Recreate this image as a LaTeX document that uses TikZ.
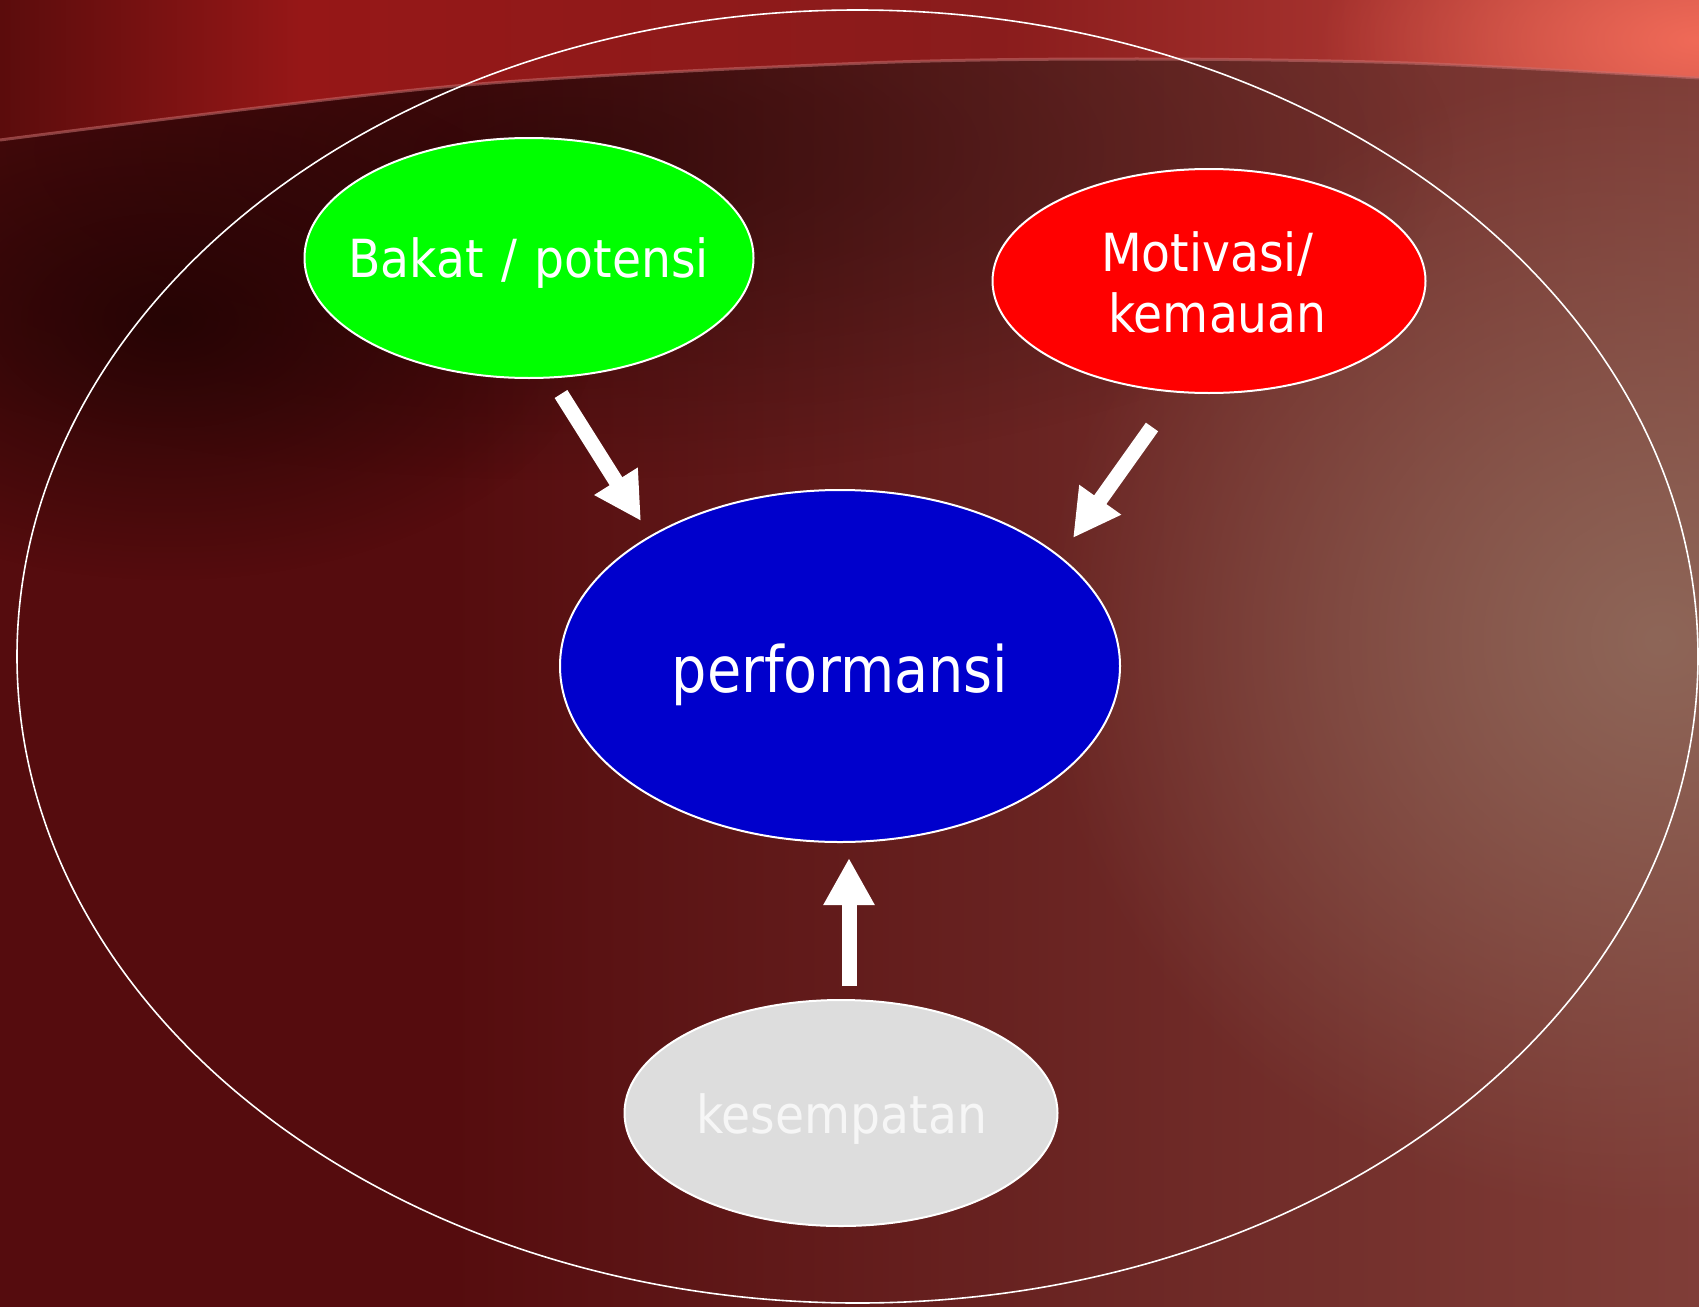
\documentclass[tikz,border=0pt]{standalone}
\usepackage{fontspec}
\setmainfont{DejaVu Sans}[FakeStretch=0.87]
\newfontfamily\lblfont{DejaVu Sans}[FakeStretch=0.9]
\usetikzlibrary{shapes.geometric,arrows.meta,fadings}
\tikzfading[name=softglow, inner color=transparent!0, outer color=transparent!100]
\definecolor{bgbase}{HTML}{550C0E}
\definecolor{bgright}{HTML}{803E38}
\definecolor{glowc}{HTML}{8E6658}
\definecolor{darkc}{HTML}{200303}
\definecolor{bandL}{HTML}{5A0C0C}
\definecolor{bandM}{HTML}{961717}
\definecolor{bandC}{HTML}{8A1C1C}
\definecolor{bandR}{HTML}{C04840}
\definecolor{bandglow}{HTML}{F06A58}
\definecolor{rimc}{HTML}{C87070}
\definecolor{cgreen}{HTML}{00FF00}
\definecolor{cred}{HTML}{FF0000}
\definecolor{cblue}{HTML}{0000CC}
\definecolor{cgrey}{HTML}{DDDDDD}
\definecolor{ctextgrey}{HTML}{F6F6F6}
\begin{document}
\begin{tikzpicture}[x=1pt,y=-1pt,
  oval/.style={ellipse, draw=white, line width=2pt, inner sep=0pt},
  lbl/.style={text=white, inner sep=0pt, anchor=base, font=\lblfont\fontsize{52.5}{62}\selectfont},
  biglbl/.style={lbl, font=\fontsize{64}{76}\selectfont},
  bigarrow/.style={draw=white, line width=15pt, -{Triangle[width=48pt,length=47pt]}}]
\useasboundingbox (0,0) rectangle (1699,1306);
\clip (-3,-3) rectangle (1702,1309);
% background
\fill[bgbase] (-3,-3) rectangle (1702,1309);
\shade[left color=bgbase, right color=bgright] (450,-3) rectangle (1702,1309);
\fill[glowc, path fading=softglow] (1660,640) ellipse (620 and 580);
\fill[black, opacity=0.4, path fading=softglow] (560,150) ellipse (900 and 330);
\fill[darkc, opacity=0.85, path fading=softglow] (170,320) ellipse (430 and 260);
\begin{scope}
  \clip (-3,-3) -- (-3,141) -- plot[smooth] coordinates {(0,140) (455,86) (867,63) (1138,59) (1408,63) (1699,78)} -- (1702,79) -- (1702,-3) -- cycle;
  \shade[left color=bandL, right color=bandM] (-3,-3) rectangle (300,160);
  \shade[left color=bandM, right color=bandC] (300,-3) rectangle (1000,160);
  \shade[left color=bandC, right color=bandR] (1000,-3) rectangle (1702,160);
  \fill[bandglow, path fading=softglow] (1699,40) ellipse (380 and 170);
\end{scope}
\draw[rimc, line width=3pt, opacity=0.55] plot[smooth] coordinates {(0,140) (455,86) (867,63) (1138,59) (1408,63) (1699,78)};
% outer ellipse
\node[ellipse, draw=white, line width=1.6pt, inner sep=0pt, minimum width=1681pt, minimum height=1293pt] (outer) at (857.5,656.5) {};
% ellipses
\node[oval, fill=cgreen, minimum width=449pt, minimum height=240pt] (bakat) at (529,258) {};
\node[oval, fill=cred, minimum width=433pt, minimum height=224pt] (motiv) at (1209,281) {};
\node[oval, fill=cblue, minimum width=560pt, minimum height=352pt] (perf) at (840,666) {};
\node[oval, fill=cgrey, minimum width=433pt, minimum height=226pt] (kesem) at (841,1113) {};
% labels
\node[lbl] (tbakat) at (528.5,277) {Bakat\hspace{0.05em} / \hspace{0.05em}potensi};
\node[lbl] (tmot1) at (1207,271) {Motivasi/};
\node[lbl] (tmot2) at (1217.5,332) {kemauan};
\node[biglbl] (tperf) at (840,692) {performansi};
\node[lbl, text=ctextgrey] (tkes) at (841.5,1133) {kesempatan};
% arrows
\coordinate (a1s) at (561,394);
\coordinate (a1e) at (641,521);
\coordinate (a2s) at (1152,427);
\coordinate (a2e) at (1073,538);
\coordinate (a3s) at (849,986);
\coordinate (a3e) at (849,858);
\draw[bigarrow] (a1s) -- (a1e);
\draw[bigarrow] (a2s) -- (a2e);
\draw[bigarrow] (a3s) -- (a3e);
\end{tikzpicture}
\end{document}
